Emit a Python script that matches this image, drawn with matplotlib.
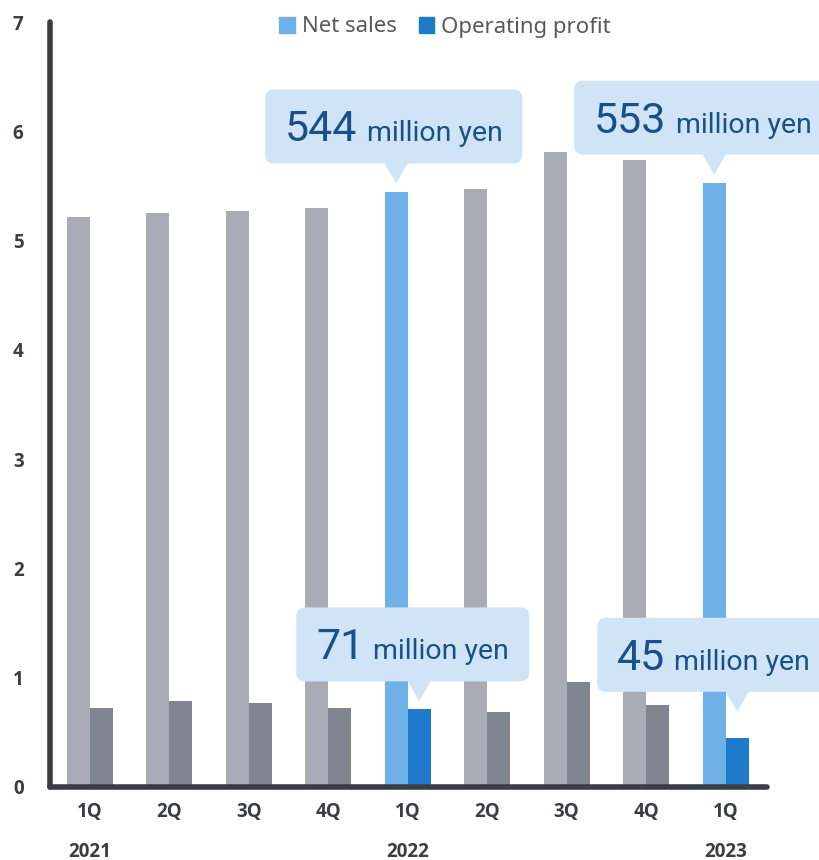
import matplotlib
matplotlib.use("Agg")
import matplotlib.pyplot as plt
from matplotlib.patches import FancyBboxPatch, Polygon, Patch
from matplotlib.transforms import IdentityTransform

# Quarterly results (unit: 100 million yen)
quarters = ["1Q", "2Q", "3Q", "4Q", "1Q", "2Q", "3Q", "4Q", "1Q"]
years = ["2021", "", "", "", "2022", "", "", "", "2023"]
net_sales = [5.22, 5.25, 5.27, 5.30, 5.44, 5.47, 5.81, 5.74, 5.53]
operating_profit = [0.72, 0.79, 0.77, 0.72, 0.71, 0.69, 0.96, 0.75, 0.45]
highlighted = [False, False, False, False, True, False, False, False, True]
y_ticks = [0, 1, 2, 3, 4, 5, 6, 7]

SALES_GRAY = "#A9ACB4"
PROFIT_GRAY = "#80868F"
SALES_BLUE = "#6EB0E8"
PROFIT_BLUE = "#1F7ACC"
AXIS_COLOR = "#3A3D42"
BUBBLE_BG = "#CFE5F7"
BUBBLE_TEXT = "#1B4F8A"

plt.rcParams["font.family"] = ["Noto Sans", "DejaVu Sans"]
TICK_FONT = dict(family=["Open Sans", "DejaVu Sans"], fontsize=13.5,
                 fontweight="bold", color=AXIS_COLOR)

W, H = 820, 860
fig = plt.figure(figsize=(W / 100, H / 100), dpi=100)
ax = fig.add_axes([50 / W, 73 / H, (767 - 50) / W, (787 - 22) / H])

bw = 0.29
xs = list(range(len(quarters)))
sales_colors = [SALES_BLUE if h else SALES_GRAY for h in highlighted]
profit_colors = [PROFIT_BLUE if h else PROFIT_GRAY for h in highlighted]
ax.bar([x - bw / 2 for x in xs], net_sales, width=bw, color=sales_colors, zorder=2)
ax.bar([x + bw / 2 for x in xs], operating_profit, width=bw, color=profit_colors, zorder=2)

ax.set_xlim(-0.5, len(xs) - 0.48)
ax.set_ylim(0, 7)
ax.set_yticks(y_ticks)
ax.set_yticklabels([str(t) for t in y_ticks], **TICK_FONT)
ax.set_xticks(xs)
ax.set_xticklabels(quarters, **TICK_FONT)
ax.tick_params(axis="y", length=0, pad=19)
ax.tick_params(axis="x", length=0, pad=11)
for i, yr in enumerate(years):
    if yr:
        ax.annotate(yr, xy=(i, 0), xycoords=("data", "axes fraction"),
                    xytext=(0, -46.5), textcoords="offset points",
                    ha="center", va="center", **TICK_FONT)

for side in ("top", "right"):
    ax.spines[side].set_visible(False)
for side in ("left", "bottom"):
    ax.spines[side].set_linewidth(4)
    ax.spines[side].set_color(AXIS_COLOR)
    ax.spines[side].set_capstyle("round")
    ax.spines[side].set_zorder(3)

fig.legend(handles=[Patch(color=SALES_BLUE, label="Net sales"),
                    Patch(color=PROFIT_BLUE, label="Operating profit")],
           loc="center", bbox_to_anchor=(445 / W, 1 - 27 / H), ncol=2,
           frameon=False, fontsize=16, labelcolor="#595959",
           handlelength=0.7, handleheight=0.7, handletextpad=0.3,
           columnspacing=1.0)

# Speech-bubble callouts: (bar index, series, left offset of box from tip, gap above bar)
callouts = [
    (4, "sales", 131, 9),
    (8, "sales", 140, 8),
    (4, "profit", 123, 8),
    (8, "profit", 140, 26),
]

BUBBLE_FONT = ["Roboto", "Noto Sans", "DejaVu Sans"]
renderer = fig.canvas.get_renderer()
BOX_H, TAIL_H, TAIL_HALF, PAD = 74, 20, 12, 20
for idx, series, left_off, gap in callouts:
    if series == "sales":
        val, bx = net_sales[idx], idx - bw / 2
    else:
        val, bx = operating_profit[idx], idx + bw / 2
    tx, ty = ax.transData.transform((bx, val))
    tip_y = ty + gap
    box_bottom = tip_y + TAIL_H
    left = tx - left_off

    num = fig.text(0, 0, f"{round(val * 100)}", fontsize=31, color=BUBBLE_TEXT,
                   family=BUBBLE_FONT, transform=IdentityTransform(), zorder=6)
    unit = fig.text(0, 0, "million yen", fontsize=20.5, color=BUBBLE_TEXT,
                    family=BUBBLE_FONT, transform=IdentityTransform(), zorder=6)
    nw = num.get_window_extent(renderer).width
    uw = unit.get_window_extent(renderer).width
    gap_txt = 9
    box_w = PAD + nw + gap_txt + uw + PAD
    baseline = box_bottom + 22
    num.set_position((left + PAD, baseline))
    num.set_va("baseline")
    unit.set_position((left + PAD + nw + gap_txt, baseline))
    unit.set_va("baseline")

    box = FancyBboxPatch((left, box_bottom), box_w, BOX_H,
                         boxstyle="round,pad=0,rounding_size=9",
                         transform=IdentityTransform(), facecolor=BUBBLE_BG,
                         edgecolor="none", zorder=5)
    fig.patches.append(box)
    tail = Polygon([(tx - TAIL_HALF, box_bottom + 1), (tx + TAIL_HALF, box_bottom + 1),
                    (tx, tip_y)], closed=True, transform=IdentityTransform(),
                   facecolor=BUBBLE_BG, edgecolor="none", zorder=5)
    fig.patches.append(tail)

fig.savefig("out.png", dpi=100)
